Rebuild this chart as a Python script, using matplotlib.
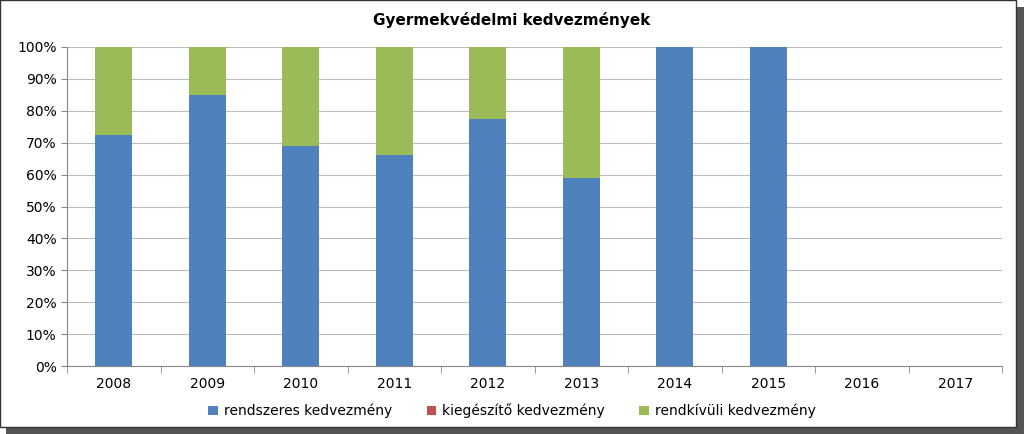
import matplotlib
matplotlib.use("Agg")
import matplotlib.pyplot as plt
from matplotlib.patches import Rectangle

years = ["2008","2009","2010","2011","2012","2013","2014","2015","2016","2017"]
rendszeres = [72.5, 85, 69, 66, 77.5, 59, 100, 100, 0, 0]
kiegeszito = [0, 0, 0, 0, 0, 0, 0, 0, 0, 0]
rendkivuli = [27.5, 15, 31, 34, 22.5, 41, 0, 0, 0, 0]

fig = plt.figure(figsize=(10.24, 4.34), dpi=100)
fig.patches.append(Rectangle((0.006, 0.0), 0.994, 0.985, transform=fig.transFigure, facecolor="#555555", zorder=-2))
fig.patches.append(Rectangle((0.0, 0.015), 0.992, 0.985, transform=fig.transFigure, facecolor="white", edgecolor="#333333", lw=1, zorder=-1))
ax = fig.add_axes([67/1024, 1-366/434, 935/1024, 319/434])
x = range(len(years))
w = 0.4
ax.bar(x, rendszeres, w, color="#4F81BD", label="rendszeres kedvezmény", zorder=3)
ax.bar(x, kiegeszito, w, bottom=rendszeres, color="#C0504D", label="kiegészítő kedvezmény", zorder=3)
b2 = [a+b for a, b in zip(rendszeres, kiegeszito)]
ax.bar(x, rendkivuli, w, bottom=b2, color="#9BBB59", label="rendkívüli kedvezmény", zorder=3)
ax.set_xlim(-0.5, len(years)-0.5)
ax.set_ylim(0, 100)
ax.set_yticks(range(0, 101, 10))
ax.set_yticklabels([f"{v}%" for v in range(0, 101, 10)], fontsize=10)
ax.set_xticks(list(x))
ax.set_xticklabels(years, fontsize=10)
ax.set_xticks([i+0.5 for i in range(-1, len(years))], minor=True)
ax.tick_params(axis="x", which="major", length=0, pad=8)
ax.tick_params(axis="x", which="minor", length=5, color="#888888")
ax.tick_params(axis="y", length=4, color="#888888")
ax.grid(axis="y", color="#BBBBBB", lw=0.8, zorder=0)
for s in ["top", "right"]:
    ax.spines[s].set_visible(False)
for s in ["left", "bottom"]:
    ax.spines[s].set_color("#888888")
fig.text(0.5, 1-20/434, "Gyermekvédelmi kedvezmények", ha="center", va="center", fontsize=11, fontweight="bold")
fig.legend(loc="center", bbox_to_anchor=(0.5, 1-411/434), ncol=3, frameon=False, fontsize=10,
           handlelength=0.7, handleheight=0.7, columnspacing=2.5, handletextpad=0.4)
fig.savefig("out.png", dpi=100)
